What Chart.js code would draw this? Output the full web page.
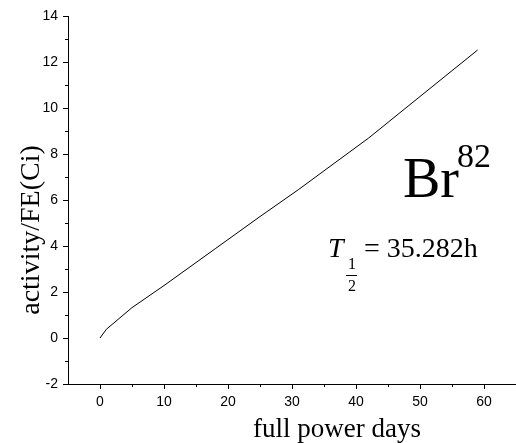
<!DOCTYPE html>
<html>
<head>
<meta charset="utf-8">
<script src="https://cdn.jsdelivr.net/npm/chart.js@4"></script>
<style>
  html, body { margin: 0; padding: 0; background: #fff; }
  canvas { display: block; }
</style>
</head>
<body>
<canvas id="myChart" width="516" height="443"></canvas>
<script>
(function () {
    "use strict";

    // Br-82 activity build-up over full power days
    var days = [0, 1, 5, 10, 18, 25, 31, 42, 50, 59];
    var activity = [0, 0.38, 1.32, 2.28, 3.88, 5.28, 6.45, 8.7, 10.5, 12.52];

    var xTicks = [0, 10, 20, 30, 40, 50, 60];
    var yTicks = [-2, 0, 2, 4, 6, 8, 10, 12, 14];
    var xMinor = [5, 15, 25, 35, 45, 55];
    var yMinor = [-1, 1, 3, 5, 7, 9, 11, 13];

    var serif = "'Liberation Serif', 'Times New Roman', serif";
    var sans = "'Liberation Sans', Arial, sans-serif";

    var points = days.map(function (d, i) { return { x: d, y: activity[i] }; });

    // minor ticks and the text annotations
    var extras = {
        id: 'extras',
        afterDraw: function (chart) {
            var c = chart.ctx;
            var xs = chart.scales.x, ys = chart.scales.y;
            c.save();
            c.strokeStyle = '#000';
            c.lineWidth = 1;
            c.beginPath();
            xMinor.forEach(function (v) {
                var px = Math.round(xs.getPixelForValue(v)) + 0.5;
                c.moveTo(px, xs.top);
                c.lineTo(px, xs.top + 3);
            });
            yMinor.forEach(function (v) {
                var py = Math.round(ys.getPixelForValue(v)) + 0.5;
                c.moveTo(ys.right, py);
                c.lineTo(ys.right - 3, py);
            });
            c.stroke();

            c.fillStyle = '#000';
            c.textBaseline = 'alphabetic';

            // axis titles
            c.textAlign = 'center';
            c.font = '27px ' + serif;
            c.fillText('full power days', 337, 437);
            c.save();
            c.translate(39, 230);
            c.rotate(-Math.PI / 2);
            c.font = '28px ' + serif;
            c.fillText('activity/FE(Ci)', 0, 0);
            c.restore();

            // nuclide label
            c.textAlign = 'left';
            c.font = '56px ' + serif;
            c.fillText('Br', 403, 197);
            c.font = '34px ' + serif;
            c.fillText('82', 457, 167);

            // half-life
            c.font = 'italic 28px ' + serif;
            c.fillText('T', 328, 257);
            c.font = '28px ' + serif;
            c.fillText('= 35.282h', 364, 257);
            c.font = '16px ' + serif;
            c.textAlign = 'center';
            c.fillText('1', 352, 269);
            c.fillText('2', 352, 291);
            c.beginPath();
            c.moveTo(346, 275.5);
            c.lineTo(357, 275.5);
            c.stroke();
            c.restore();
        }
    };

    var ctx = document.getElementById('myChart').getContext('2d');
    var chart = new Chart(ctx, {
        type: 'line',
        data: {
            datasets: [{
                data: points,
                borderColor: '#000',
                borderWidth: 1,
                pointRadius: 0,
                tension: 0,
                fill: false
            }]
        },
        options: {
            responsive: false,
            animation: false,
            devicePixelRatio: 1,
            layout: { padding: { top: 16, right: 0, left: 0, bottom: 0 } },
            plugins: {
                legend: { display: false },
                tooltip: { enabled: false }
            },
            scales: {
                x: {
                    type: 'linear',
                    min: -5,
                    max: 65,
                    afterBuildTicks: function (scale) {
                        scale.ticks = xTicks.map(function (v) { return { value: v }; });
                    },
                    afterFit: function (scale) { scale.height = 59; },
                    border: { display: true, color: '#000', width: 1 },
                    grid: { drawOnChartArea: false, drawTicks: true, tickLength: 5, color: '#000' },
                    ticks: { color: '#000', padding: 5, maxRotation: 0, font: { family: sans, size: 14 } }
                },
                y: {
                    min: -2,
                    max: 14,
                    afterBuildTicks: function (scale) {
                        scale.ticks = yTicks.map(function (v) { return { value: v }; });
                    },
                    afterFit: function (scale) { scale.width = 68; },
                    border: { display: true, color: '#000', width: 1 },
                    grid: { drawOnChartArea: false, drawTicks: true, tickLength: 5, color: '#000' },
                    ticks: { color: '#000', padding: 5, font: { family: sans, size: 14 } }
                }
            }
        },
        plugins: [extras]
    });
})();
</script>
</body>
</html>
